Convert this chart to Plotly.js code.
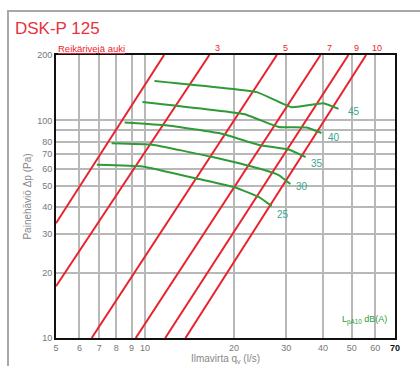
<!DOCTYPE html>
<html>
<head>
<meta charset="utf-8">
<script src="https://cdn.plot.ly/plotly-3.0.1.min.js"></script>
<style>
  html, body { margin: 0; padding: 0; background: #fff; }
  #frame { position: absolute; left: 7px; top: 10px; width: 420px; height: 370px;
           border-left: 2px solid #a8a8a8; border-top: 2px solid #a8a8a8; box-sizing: border-box; }
  #chart { position: absolute; left: 0; top: 0; width: 420px; height: 366px; }
</style>
</head>
<body>
<div id="frame"></div>
<div id="chart"></div>
<script>
// ---- axis ticks ----
const qTicks = [5, 6, 7, 8, 9, 10, 20, 30, 40, 50, 60, 70];
const qTickText = ['5', '6', '7', '8', '9', '10', '20', '30', '40', '50', '60', '<span style="color:#111"><b>70</b></span>'];
const dpTicks = [10, 20, 30, 40, 50, 60, 70, 80, 100, 200];
const dpTickText = ['10', '20', '30', '40', '50', '60', '70', '80', '100', '200'];
const dpExtraGrid = [90];

// ---- red lines: open hole rows (Reikärivejä auki) ----
const holeLabels = ['', '3', '5', '7', '9', '10'];
const holeQStart = [5, 5, 6.6, 9.3, 11.7, 13.7];
const holeDpStart = [33.7, 17.3, 10, 10, 10, 10];
const holeQEnd = [11.6, 16.5, 27.9, 39.2, 48.7, 55.9];
const holeDpEnd = [200, 200, 200, 200, 200, 200];

// ---- green curves: sound level LpA10 dB(A) ----
const soundLabels = ['25', '30', '35', '40', '45'];
const q25 = [6.87, 9.8, 15.2, 20.3, 24.3, 26.8];
const dp25 = [62.6, 61.5, 53.8, 49.1, 44.4, 40.4];
const q30 = [7.71, 10.6, 16.9, 24.3, 28.3, 31.0];
const dp30 = [78.6, 77.4, 67.9, 60.1, 56.1, 51.0];
const q35 = [8.53, 11.8, 18.2, 24.3, 30.6, 34.9];
const dp35 = [97.9, 95.0, 86.9, 77.1, 73.5, 67.9];
const q40 = [9.8, 21.6, 28.3, 35.2, 39.5];
const dp40 = [121.7, 107, 93.3, 92.8, 87.6];
const q45 = [10.76, 23.9, 31.3, 40.1, 45.1];
const dp45 = [152, 135, 115, 120, 113];

const soundQ = [q25, q30, q35, q40, q45];
const soundDp = [dp25, dp30, dp35, dp40, dp45];

const RED = '#e8232d';
const GREEN = '#2f9a36';
const TEAL = '#3aa592';

const traces = [];
for (let i = 0; i < holeLabels.length; i++) {
  traces.push({
    x: [holeQStart[i], holeQEnd[i]], y: [holeDpStart[i], holeDpEnd[i]],
    mode: 'lines', line: { color: RED, width: 2 }, hoverinfo: 'skip', showlegend: false
  });
}
for (let i = 0; i < soundLabels.length; i++) {
  traces.push({
    x: soundQ[i], y: soundDp[i], mode: 'lines',
    line: { color: GREEN, width: 2, shape: 'spline', smoothing: 0.3 },
    hoverinfo: 'skip', showlegend: false
  });
}

const annotations = [];
// hole-row labels at top end of each red line
for (let i = 0; i < holeLabels.length; i++) {
  if (!holeLabels[i]) continue;
  annotations.push({
    x: Math.log10(holeQEnd[i]), y: Math.log10(holeDpEnd[i]), xref: 'x', yref: 'y',
    text: holeLabels[i], showarrow: false, xanchor: 'left', yanchor: 'bottom',
    xshift: 4, yshift: 0, font: { size: 9, color: RED }
  });
}
annotations.push({
  x: 0, y: 1, xref: 'paper', yref: 'paper', text: '<u>Reikärivejä auki</u>',
  showarrow: false, xanchor: 'left', yanchor: 'bottom', xshift: 0, yshift: -1,
  font: { size: 9.5, color: RED }
});
// sound level labels at end of each green curve
const shiftX = [3, 4, 3, 4, 7];
const shiftY = [-8, -2, -6, -5, -3];
for (let i = 0; i < soundLabels.length; i++) {
  const qa = soundQ[i], da = soundDp[i];
  annotations.push({
    x: Math.log10(qa[qa.length - 1]), y: Math.log10(da[da.length - 1]), xref: 'x', yref: 'y',
    text: soundLabels[i], showarrow: false, xanchor: 'left', yanchor: 'middle',
    xshift: shiftX[i], yshift: shiftY[i], font: { size: 10, color: TEAL }
  });
}
annotations.push({
  x: 1, y: 0, xref: 'paper', yref: 'paper',
  text: 'L<sub>pA10</sub> dB(A)', showarrow: false, xanchor: 'right', yanchor: 'bottom',
  xshift: -6, yshift: 10, font: { size: 9, color: GREEN }
});

const layout = {
  width: 420, height: 366,
  margin: { l: 56, r: 25, t: 55, b: 28 },
  paper_bgcolor: 'rgba(0,0,0,0)', plot_bgcolor: '#fff',
  font: { family: 'Liberation Sans, Arial, sans-serif', color: '#777', size: 9 },
  title: {
    text: 'DSK-P 125', xref: 'container', yref: 'container',
    x: 15 / 420, xanchor: 'left', y: 1 - 28 / 366, yanchor: 'middle',
    font: { size: 17, color: '#e8323c', family: 'Liberation Sans, Arial, sans-serif' }
  },
  xaxis: {
    type: 'log', range: [Math.log10(5), Math.log10(70)],
    tickvals: qTicks, ticktext: qTickText, ticks: '',
    showgrid: true, gridcolor: '#b8b8b8', gridwidth: 2,
    showline: true, linecolor: '#111', linewidth: 2, mirror: true,
    zeroline: false, automargin: false, tickfont: { size: 9, color: '#777' },
    title: { text: 'Ilmavirta q<sub>v</sub> (l/s)', standoff: 2, font: { size: 10, color: '#888' } }
  },
  yaxis: {
    type: 'log', range: [1, Math.log10(200)],
    tickvals: dpTicks, ticktext: dpTickText, ticks: '',
    showgrid: true, gridcolor: '#b8b8b8', gridwidth: 2,
    minor: { tickvals: dpExtraGrid, showgrid: true, gridcolor: '#b8b8b8', gridwidth: 2, ticks: '' },
    showline: true, linecolor: '#111', linewidth: 2, mirror: true,
    zeroline: false, automargin: false, tickfont: { size: 9, color: '#777' },
    title: { text: 'Painehäviö Δp (Pa)', standoff: 4, font: { size: 10, color: '#888' } }
  },
  annotations: annotations,
  showlegend: false
};

Plotly.newPlot('chart', traces, layout, { displayModeBar: false, staticPlot: true });
</script>
</body>
</html>
